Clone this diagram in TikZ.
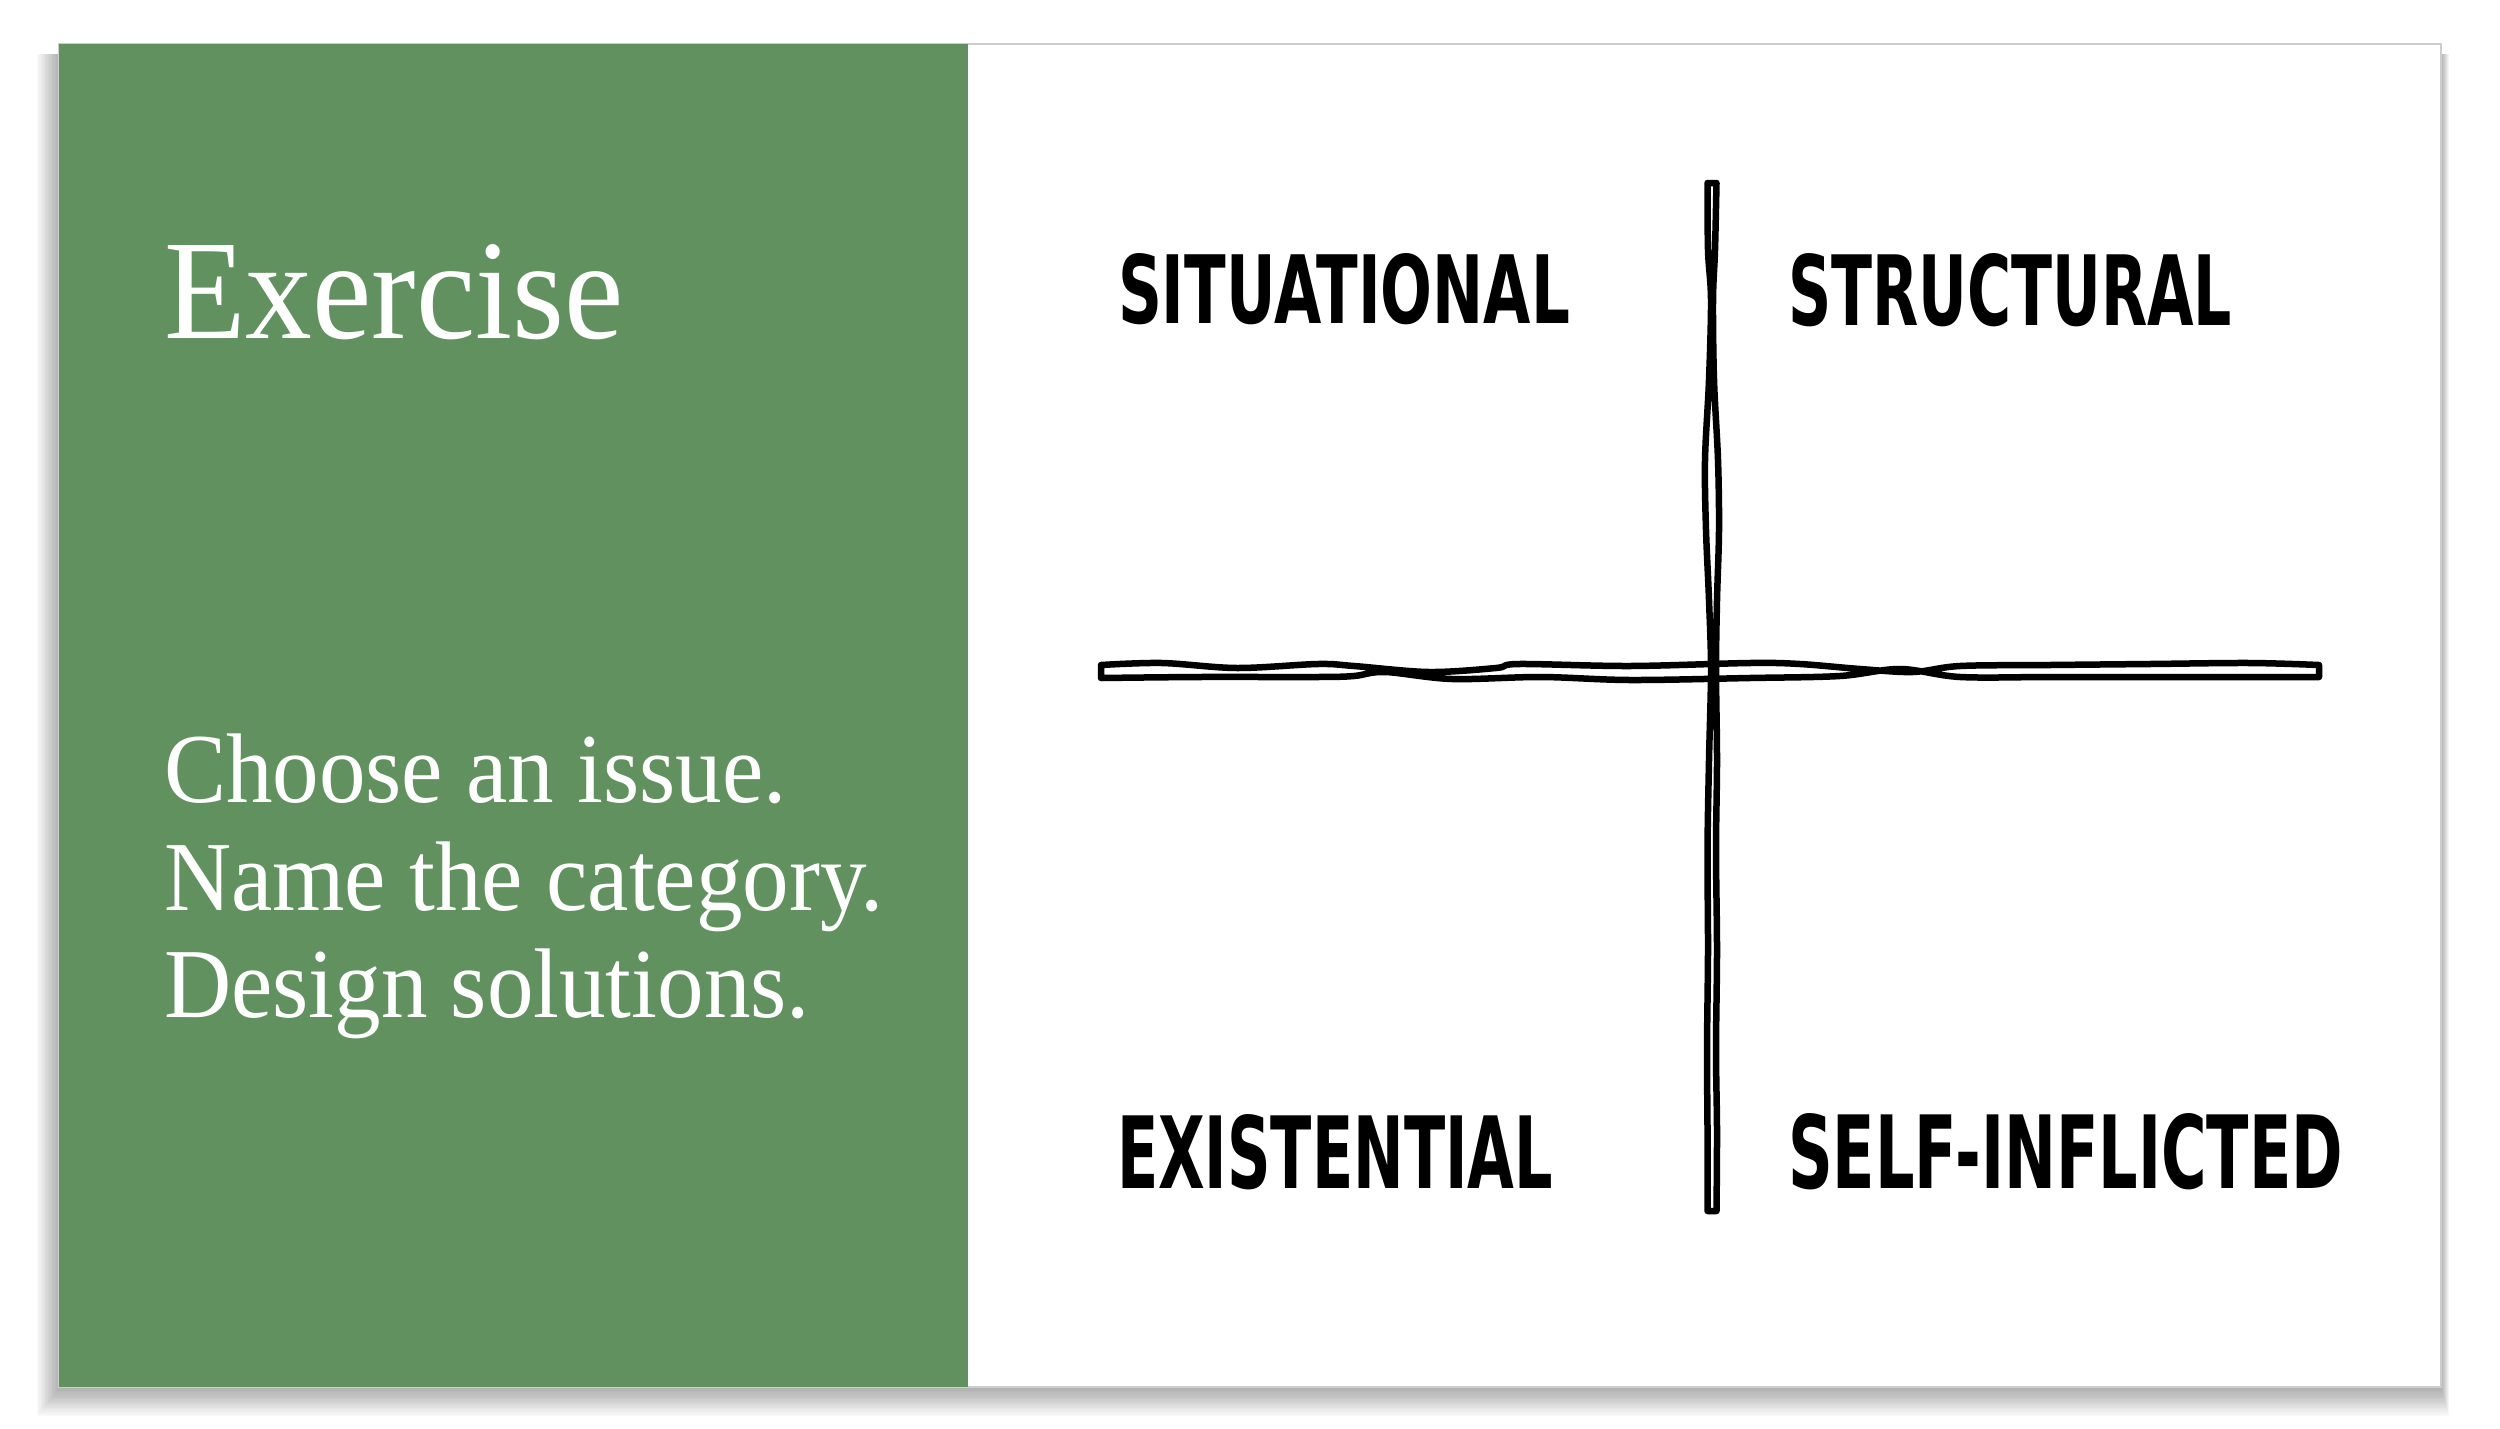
\documentclass[tikz,border=0pt]{standalone}
\usepackage{fontspec}
\setmainfont{Liberation Serif}[FakeStretch=0.94]
\newfontfamily\labfont{DejaVu Sans}
\definecolor{panelgreen}{RGB}{96,145,94}
\definecolor{slideedge}{RGB}{205,205,205}
\begin{document}
\begin{tikzpicture}[x=1pt,y=-1pt,
  sketch/.style={line width=6.5pt, line join=round, draw=black},
  lab/.style={anchor=north west, inner sep=0pt, outer sep=0pt},
  body/.style={anchor=base west, inner sep=0pt, outer sep=0pt, text=white, font=\fontsize{99}{108}\selectfont}]
\useasboundingbox (0,0) rectangle (2500,1429);
\fill[white] (0,0) rectangle (2500,1429);
% soft shadow
\foreach \i in {1,...,16} {
  \fill[black, opacity=0.02] (59-\i*1.4, 44+10) rectangle (2441+\i*0.5, 1387+2+\i*1.7);
}
% slide
\fill[white] (59,44) rectangle (2441,1387);
\draw[slideedge, line width=1.2pt] (59,44) rectangle (2441,1387);
\fill[panelgreen] (59,44) rectangle (968,1387);
% left texts
\node[body, font=\fontsize{142}{150}\selectfont] (title) at (164,338) {Exercise};
\node[body] (l1) at (164,802) {Choose an issue.};
\node[body] (l2) at (164,910) {Name the category.};
\node[body] (l3) at (164,1017) {Design solutions.};
% quadrant labels
\node[lab] (sit) at (1118,253) {\resizebox{452pt}{70pt}{\labfont\bfseries SITUATIONAL}};
\node[lab] (str) at (1788,253) {\resizebox{444pt}{72pt}{\labfont\bfseries STRUCTURAL}};
\node[lab] (exi) at (1117,1114) {\resizebox{436pt}{74pt}{\labfont\bfseries EXISTENTIAL}};
\node[lab] (sel) at (1788,1113) {\resizebox{555pt}{75pt}{\labfont\bfseries SELF-INFLICTED}};
% horizontal axis
\draw[sketch] plot[smooth, tension=0.55] coordinates {
 (1101,665) (1162,663) (1237,668) (1318,664) (1354,666) (1429,672) (1496,668)
 (1519,664) (1630,666) (1750,663) (1800,664) (1860,669) (1913,672)
 (1960,666) (2050,665) (2150,664) (2250,663) (2319,665)}
 -- plot[smooth, tension=0.55] coordinates {
 (2319,677) (2250,677) (2150,677) (2050,677) (1960,677) (1900,669) (1840,676)
 (1750,678) (1630,680) (1541,677) (1452,679) (1385,672)
 (1354,676) (1318,677) (1200,677) (1101,678)} -- cycle;
% vertical axis
\draw[sketch] plot[smooth, tension=0.55] coordinates {
 (1707.5,183) (1708,250) (1711,300) (1709,380) (1705,460) (1706,530) (1709,600)
 (1711,670) (1709,760) (1707.5,850) (1708,950) (1707,1050) (1707.5,1130) (1707.5,1211)}
 -- plot[smooth, tension=0.55] coordinates {
 (1716.5,1211) (1717,1130) (1716,1050) (1717,950) (1716,850) (1717,760) (1716,670)
 (1717,600) (1719,530) (1718,460) (1714,380) (1713,300) (1715,250) (1716.5,183)} -- cycle;
\end{tikzpicture}
\end{document}
